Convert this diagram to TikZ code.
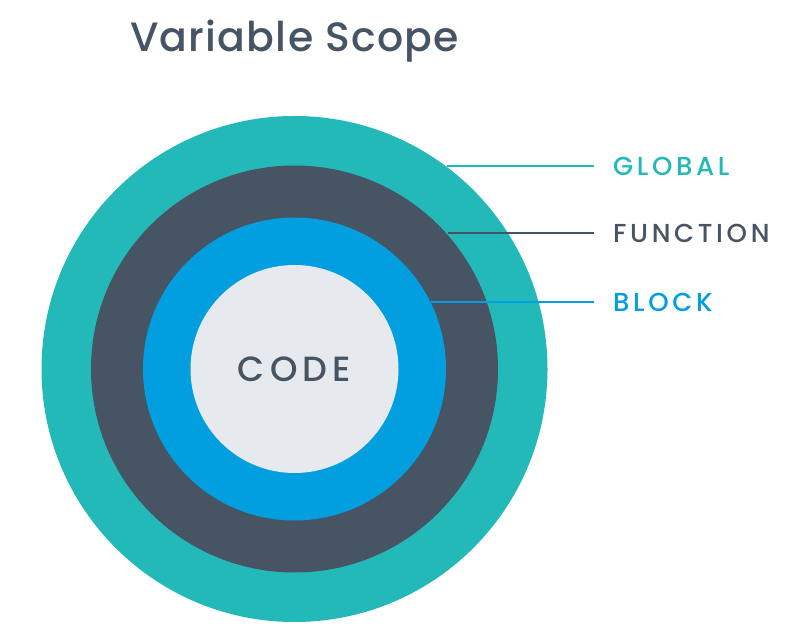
\documentclass[tikz,border=0pt]{standalone}
\usepackage{fontspec}
\setmainfont{Poppins}
\newfontfamily\titlefont{Poppins Medium}[LetterSpace=3]
\newfontfamily\labfont{Poppins Medium}[LetterSpace=14]
\newfontfamily\codefont{Poppins Medium}[LetterSpace=15]
\definecolor{cglobal}{HTML}{23B9B8}
\definecolor{cfunc}{HTML}{465463}
\definecolor{cblock}{HTML}{019FE0}
\definecolor{ccode}{HTML}{E6EAEE}
\definecolor{ctext}{HTML}{465463}
\tikzset{
  ring/.style={circle, draw=none, inner sep=0pt},
  leader/.style={line width=2pt},
  lab/.style={anchor=west, inner sep=0pt, font=\labfont\fontsize{26}{26}\selectfont},
}
\begin{document}
\begin{tikzpicture}[x=1pt,y=1pt]
\useasboundingbox (0,0) rectangle (787,638);
\fill[white] (0,0) rectangle (787,638);
\node[anchor=base west, inner sep=0pt, text=ctext, font=\titlefont\fontsize{41}{41}\selectfont] (title) at (130,586) {Variable Scope};
\node[ring, fill=cglobal, minimum size=506pt] (global) at (294.5,269) {};
\node[ring, fill=cfunc, minimum size=407pt] (function) at (294.5,269) {};
\node[ring, fill=cblock, minimum size=303pt] (block) at (294.5,269) {};
\node[ring, fill=ccode, minimum size=208pt, text=ctext, font=\codefont\fontsize{35}{35}\selectfont] (code) at (294.5,269) {CODE};
\coordinate (gend) at (594,472);
\coordinate (fend) at (594,405);
\coordinate (bend) at (594,336);
\draw[leader, cglobal] (global.53.4 |- gend) -- (gend);
\draw[leader, cfunc] (function.41.9 |- fend) -- (fend);
\draw[leader, cblock] (block.26.2 |- bend) -- (bend);
\node[lab, text=cglobal] (lglobal) at (613,472) {GLOBAL};
\node[lab, text=ctext] (lfunction) at (613,405) {FUNCTION};
\node[lab, text=cblock] (lblock) at (613,336) {BLOCK};
\end{tikzpicture}
\end{document}
